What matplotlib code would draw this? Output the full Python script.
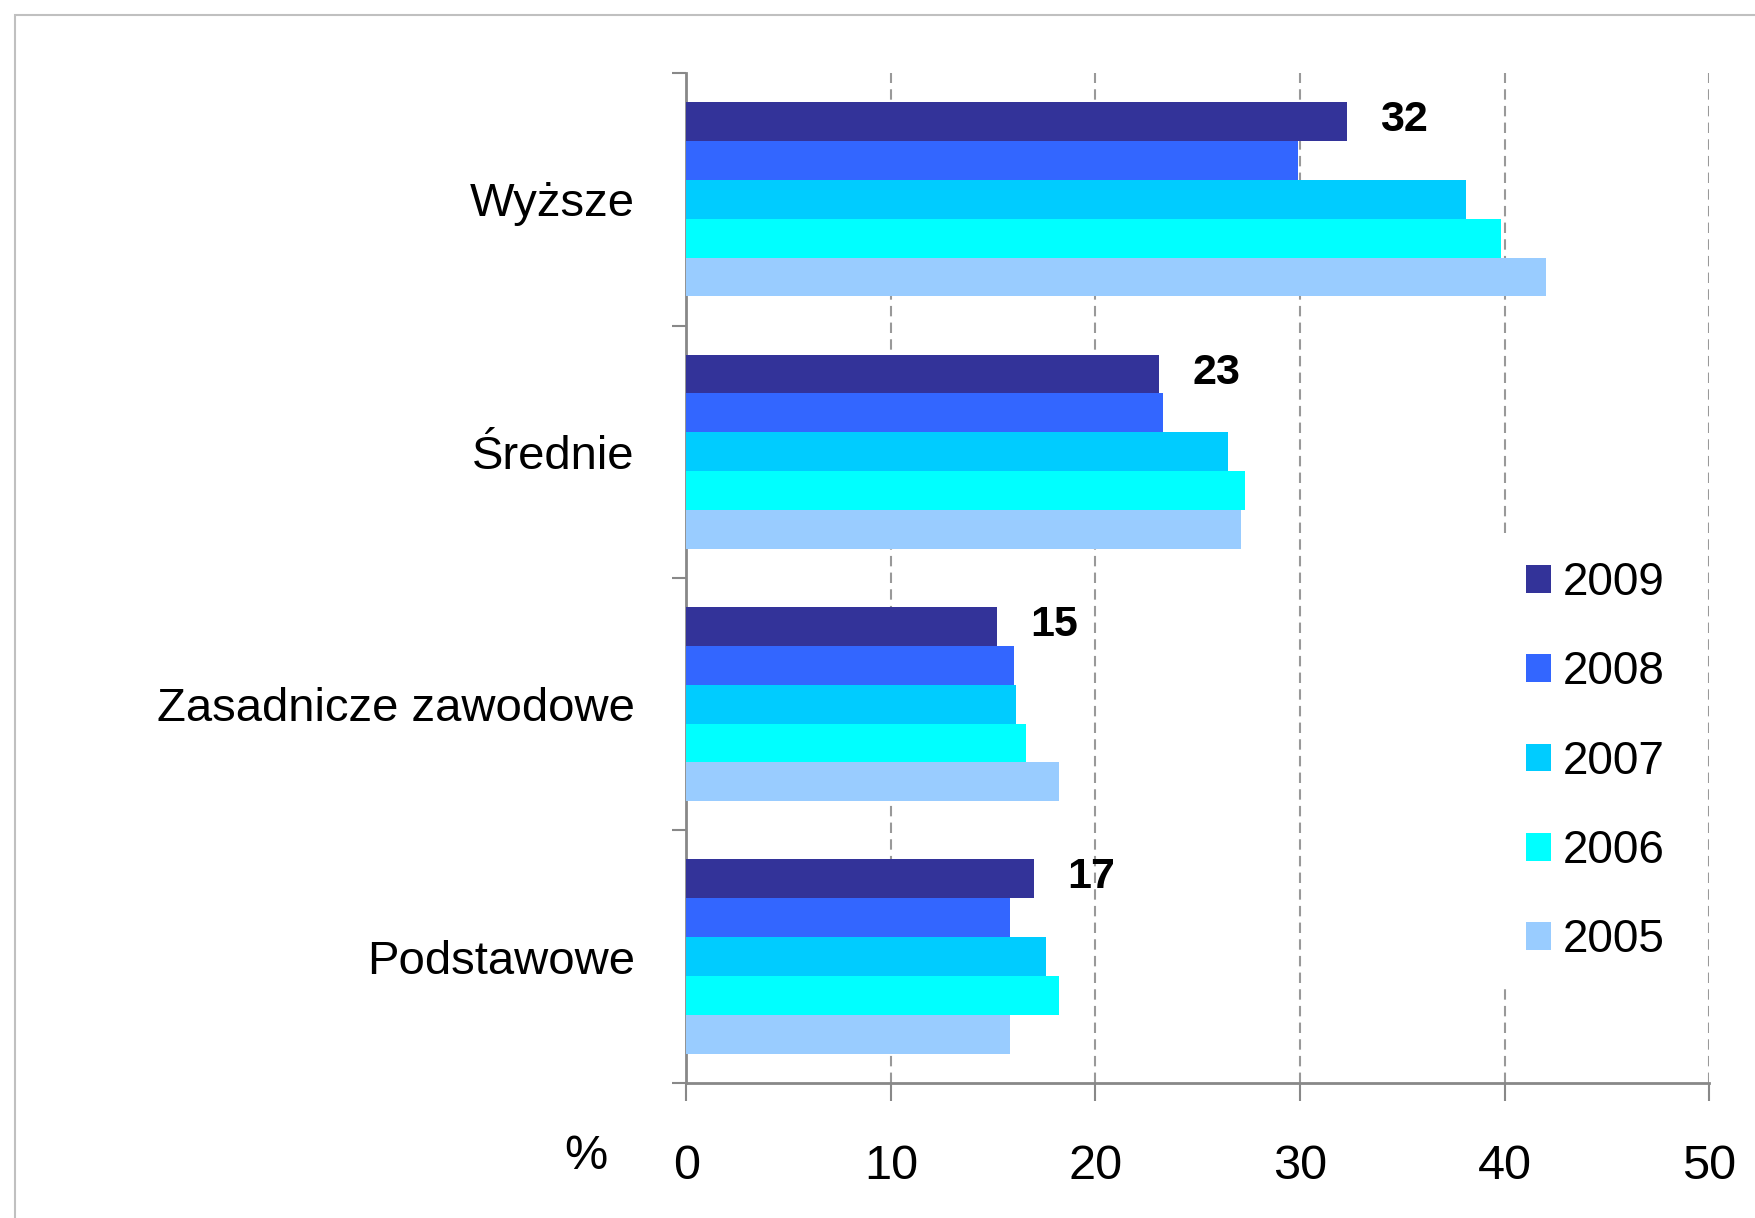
import numpy as np
import matplotlib.pyplot as plt
from matplotlib.patches import Patch, Rectangle

plt.rcParams['font.family'] = ['Liberation Sans', 'DejaVu Sans']

categories = ['Wyższe', 'Średnie', 'Zasadnicze zawodowe', 'Podstawowe']
years = ['2009', '2008', '2007', '2006', '2005']
values = {
    '2009': [32.3, 23.1, 15.2, 17.0],
    '2008': [29.9, 23.3, 16.0, 15.8],
    '2007': [38.1, 26.5, 16.1, 17.6],
    '2006': [39.8, 27.3, 16.6, 18.2],
    '2005': [42.0, 27.1, 18.2, 15.8],
}
labels_2009 = ['32', '23', '15', '17']
colors = ['#333399', '#3366ff', '#00ccff', '#00ffff', '#99ccff']
xticks = [0, 10, 20, 30, 40, 50]

fig = plt.figure(figsize=(17.55, 12.18), dpi=100)
ax = fig.add_axes([0.391, 0.111, 0.583, 0.829])

# outer frame around the chart area
fig.patches.append(Rectangle((15 / 1755, -0.2), 1.5, 1.2 - 15 / 1218,
                             transform=fig.transFigure, fill=False,
                             edgecolor='#c0c0c0', lw=1.5))

y = np.arange(len(categories))
h = 0.154
for k, yr in enumerate(years):
    ax.barh(y + (k - 2) * h, values[yr], height=h, color=colors[k],
            label=yr, zorder=3)

# value labels for 2009
for i, lab in enumerate(labels_2009):
    ax.annotate(lab, (values['2009'][i], y[i] - 2 * h), xytext=(24, 1),
                textcoords='offset points', va='center', ha='left',
                fontsize=31, fontweight='bold')

ax.set_xlim(0, 50)
ax.set_ylim(3.5, -0.5)
ax.set_xticks(xticks)
ax.set_xticklabels([str(t) for t in xticks], fontsize=35)
ax.set_yticks(y)
ax.set_yticklabels(categories, fontsize=34)
ax.set_yticks(np.arange(-0.5, 4.0, 1.0), minor=True)
ax.tick_params(axis='y', which='major', length=0, pad=37)
ax.tick_params(axis='y', which='minor', length=10, width=1.5, color='#888888')
ax.tick_params(axis='x', length=13, width=1.5, color='#888888', pad=31)

for s in ['top', 'right']:
    ax.spines[s].set_visible(False)
for s in ['left', 'bottom']:
    ax.spines[s].set_color('#888888')
    ax.spines[s].set_linewidth(2)

ax.grid(axis='x', linestyle=(0, (5, 3)), color='#999999', lw=1.5, zorder=0)

ax.text(-0.098, -0.073, '%', transform=ax.transAxes, fontsize=35,
        ha='center', va='center')

handles = [Patch(facecolor=c, edgecolor='none') for c in colors]
leg = ax.legend(handles, years, loc='upper left',
                bbox_to_anchor=(1503 / 1755, 1 - 538 / 1218),
                bbox_transform=fig.transFigure, fontsize=33, frameon=True,
                fancybox=False, edgecolor='none', facecolor='white',
                framealpha=1, borderpad=0.5, handlelength=0.55,
                handleheight=0.55, handletextpad=0.26, labelspacing=0.99,
                borderaxespad=0)
leg.set_zorder(5)

fig.savefig('out.png', dpi=100)
